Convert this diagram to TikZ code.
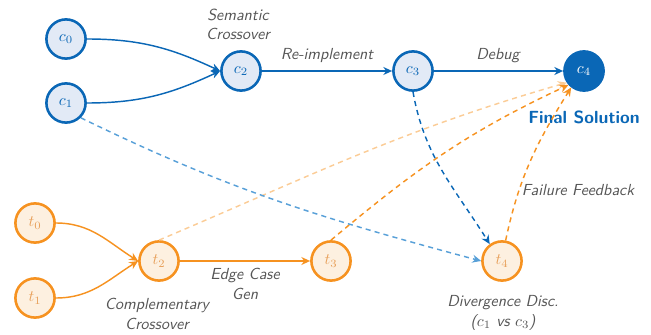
\documentclass[tikz,border=0pt]{standalone}
\usepackage{fontspec}
\usetikzlibrary{arrows.meta}
\definecolor{cblue}{RGB}{10,103,182}
\definecolor{cbluefill}{RGB}{226,234,246}
\definecolor{clblue}{RGB}{88,160,216}
\definecolor{corange}{RGB}{246,146,32}
\definecolor{corfill}{RGB}{253,240,224}
\definecolor{clorange}{RGB}{251,204,150}
\definecolor{ctorange}{RGB}{232,160,90}
\definecolor{cgrey}{RGB}{85,85,85}
\tikzset{
  cnode/.style={circle, draw=cblue, fill=cbluefill, line width=1.6pt, minimum size=24.5pt, inner sep=0pt, text=cblue},
  cfin/.style={circle, draw=cblue, fill=cblue, line width=1.6pt, minimum size=24.5pt, inner sep=0pt, text=white},
  tnode/.style={circle, draw=corange, fill=corfill, line width=1.6pt, minimum size=24.5pt, inner sep=0pt, text=ctorange},
  tip/.style={-{Stealth[length=5.5pt,width=5pt,inset=1.8pt]}},
  bedge/.style={tip, draw=cblue, line width=0.9pt},
  oedge/.style={tip, draw=corange, line width=0.9pt},
  lbl/.style={font=\sffamily\itshape, text=cgrey, align=center, inner sep=1pt},
  dsh/.style={dash pattern=on 3.2pt off 2.6pt},
}
\begin{document}
\begin{tikzpicture}[x=0.625pt,y=-0.625pt]
\useasboundingbox (0,0) rectangle (651,335);
% nodes
\node[cnode] (c0) at (66,39) {$c_0$};
\node[cnode] (c1) at (66,103) {$c_1$};
\node[cnode] (c2) at (241,71) {$c_2$};
\node[cnode] (c3) at (413,71) {$c_3$};
\node[cfin]  (c4) at (584,71) {$c_4$};
\node[tnode] (t0) at (35,223) {$t_0$};
\node[tnode] (t1) at (35,298) {$t_1$};
\node[tnode] (t2) at (159,261) {$t_2$};
\node[tnode] (t3) at (331,261) {$t_3$};
\node[tnode] (t4) at (502,261) {$t_4$};
% labels
\node[lbl] (lsem) at (238,24) {Semantic\\Crossover};
\node[lbl] (lre) at (327,56) {Re-implement};
\node[lbl] (ldeb) at (498,56) {Debug};
\node[font=\sffamily\bfseries\fontsize{11}{13}\selectfont, text=cblue, inner sep=1pt] (lfin) at (584,117) {Final Solution};
\node[lbl] (lfail) at (578,190) {Failure Feedback};
\node[lbl] (ledge) at (245,284) {Edge Case\\Gen};
\node[lbl] (lcomp) at (157,314) {Complementary\\Crossover};
\node[lbl] (ldiv) at (503,313) {Divergence Disc.\\($c_1$ vs $c_3$)};
% dashed cross edges
\draw[tip, draw=clorange, line width=0.9pt, dsh] (t2.north) to[out=23,in=-164] (c4.-146);
\draw[tip, draw=corange, line width=0.9pt, dsh] (t3.north) to[out=40,in=-155] (c4.-138);
\draw[tip, draw=corange, line width=0.9pt, dsh] (t4.80) to[out=78,in=-122] (c4.-128);
\draw[tip, draw=clblue, line width=0.9pt, dsh] (c1.-45) to[out=-26,in=165] (t4.west);
\draw[tip, draw=cblue, line width=0.9pt, dsh] (c3.south) to[out=-80,in=122] (t4.126);
% solid edges
\draw[bedge] (c0.east) to[out=0,in=155] (c2.west);
\draw[bedge] (c1.east) to[out=0,in=205] (c2.west);
\draw[bedge] (c2) -- (c3);
\draw[bedge] (c3) -- (c4);
\draw[oedge] (t0.east) to[out=0,in=148] (t2.west);
\draw[oedge] (t1.east) to[out=0,in=212] (t2.west);
\draw[oedge] (t2) -- (t3);
\end{tikzpicture}
\end{document}
